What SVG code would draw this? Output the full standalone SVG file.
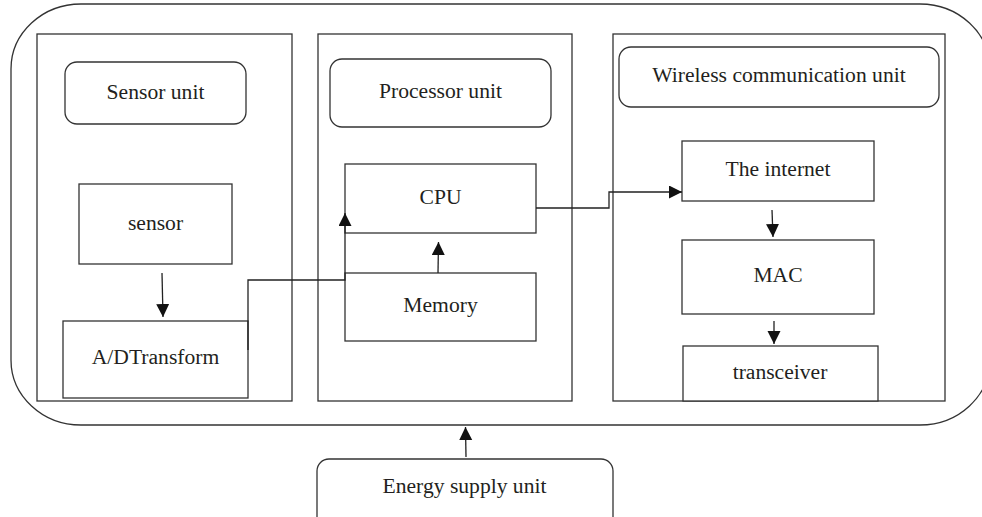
<svg xmlns="http://www.w3.org/2000/svg" width="982" height="517" viewBox="0 0 982 517">
<defs>
<style>
.box{fill:#fff;stroke:#333;stroke-width:1.3}
.panel{fill:none;stroke:#333;stroke-width:1.3}
.ln{fill:none;stroke:#222;stroke-width:1.3}
text{font-family:"Liberation Serif","Times New Roman",serif;font-size:21.6px;fill:#231f20;text-anchor:middle}
</style>
<marker id="ah" markerUnits="userSpaceOnUse" markerWidth="13" markerHeight="14" viewBox="0 0 13 14" refX="13" refY="6.5" orient="auto">
<path d="M0,0 L13,6.5 L0,13 Z" fill="#111"/>
</marker>
</defs>
<rect width="982" height="517" fill="#fff"/>
<g id="outer"><rect x="11" y="4" width="979" height="421" rx="70" ry="65" class="panel"/></g>
<g id="panel-sensor"><rect x="37" y="34" width="255" height="367" class="panel"/></g>
<g id="panel-processor"><rect x="318" y="34" width="254" height="367" class="panel"/></g>
<g id="panel-wireless"><rect x="613" y="34" width="332" height="367" class="panel"/></g>
<g id="sensor-unit"><rect x="65" y="62" width="181" height="62" rx="12" class="box"/><text x="155.5" y="99">Sensor unit</text></g>
<g id="processor-unit"><rect x="330" y="59" width="221" height="68" rx="12" class="box"/><text x="440.5" y="98">Processor unit</text></g>
<g id="wireless-unit"><rect x="619" y="47" width="320" height="60" rx="12" class="box"/><text x="779" y="82">Wireless communication unit</text></g>
<g id="sensor"><rect x="79" y="184" width="153" height="80" class="box"/><text x="155.5" y="230">sensor</text></g>
<g id="adtransform"><rect x="63" y="321" width="185" height="77" class="box"/><text x="155.5" y="364">A/DTransform</text></g>
<g id="cpu"><rect x="345" y="164" width="191" height="69" class="box"/><text x="440.5" y="204">CPU</text></g>
<g id="memory"><rect x="345" y="273" width="191" height="68" class="box"/><text x="440.5" y="312">Memory</text></g>
<g id="internet"><rect x="682" y="141" width="192" height="60" class="box"/><text x="778" y="176">The internet</text></g>
<g id="mac"><rect x="682" y="240" width="192" height="74" class="box"/><text x="778" y="282">MAC</text></g>
<g id="transceiver"><rect x="683" y="346" width="195" height="55" class="box"/><text x="780" y="379">transceiver</text></g>
<g id="energy"><rect x="317" y="459" width="296" height="70" rx="12" class="box"/><text x="464.5" y="493">Energy supply unit</text></g>
<g id="connectors">
<path d="M162,273 L163,317" class="ln" marker-end="url(#ah)"/>
<path d="M248,350 L248,280 L345,280 L345,213" class="ln" marker-end="url(#ah)"/>
<path d="M438,273 L438.5,242" class="ln" marker-end="url(#ah)"/>
<path d="M536,208 L609,208 L609,192 L682,192" class="ln" marker-end="url(#ah)"/>
<path d="M772,210 L773,237" class="ln" marker-end="url(#ah)"/>
<path d="M774,321 L774,344" class="ln" marker-end="url(#ah)"/>
<path d="M466,457 L465.5,427" class="ln" marker-end="url(#ah)"/>
</g>
</svg>
